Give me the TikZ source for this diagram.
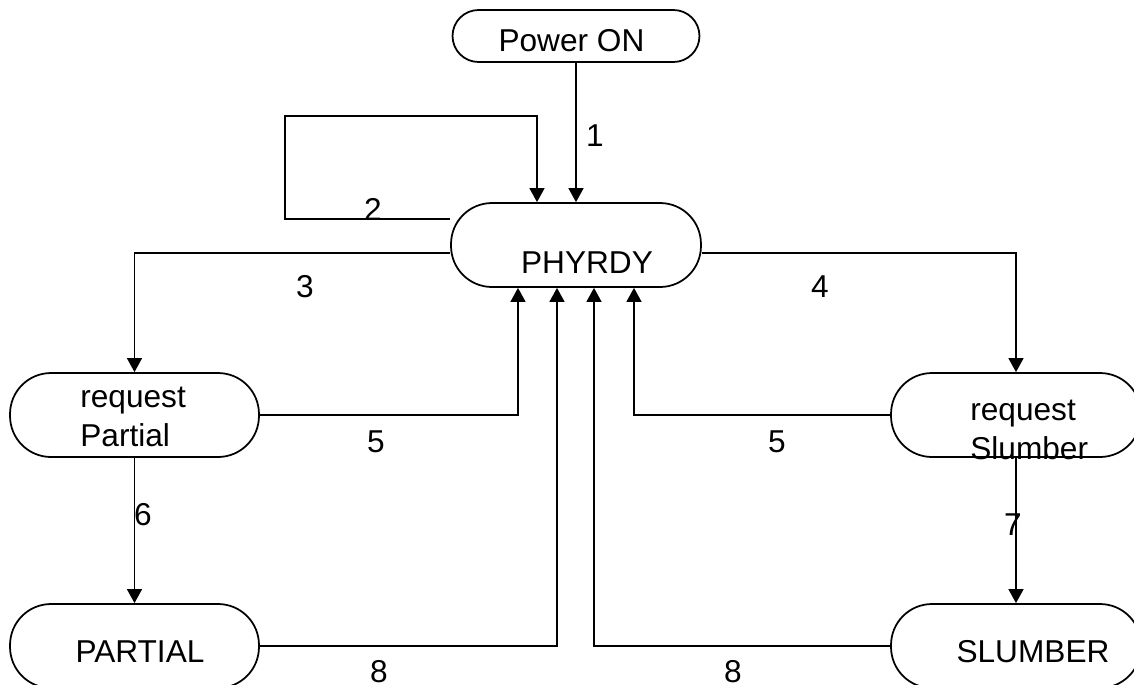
\documentclass[tikz,border=0pt]{standalone}
\usepackage{fontspec}
\setmainfont{Liberation Sans}
\usetikzlibrary{arrows.meta}

\begin{document}
\begin{tikzpicture}[x=0.02cm, y=-0.02cm,
					>={Triangle[length=8pt, width=8.5pt]},   %Pfeilspitzen
					zustand/.style={draw, line width=1pt, rounded corners=0.82cm, minimum width=5cm, minimum height=1.68cm, inner sep=0pt},
					txt/.style={anchor=base, inner sep=0pt, font=\fontsize{18pt}{22pt}\selectfont},
					nr/.style={anchor=base, inner sep=0pt, font=\fontsize{18pt}{22pt}\selectfont},
					pfeil/.style={->, line width=1pt}]
					\useasboundingbox (0,0) rectangle (1134,684);
					% Zustaende
					\node[zustand, rounded corners=0.52cm, minimum width=4.94cm, minimum height=1.04cm] (pwr) at (576,36) {};
					\node[zustand] (phy) at (576,245) {};
					\node[zustand, minimum width=4.98cm] (reqp) at (134.5,415) {};
					\node[zustand, minimum width=4.98cm] (part) at (134.5,646) {};
					\node[zustand] (reqs) at (1016,415) {};
					\node[zustand] (slum) at (1016,646) {};
					% Beschriftung der Zustaende
					\node[txt] (tpwr) at (571.5,51) {Power ON};
					\node[txt] (tphy) at (587,273) {PHYRDY};
					\node[txt, anchor=base west, align=left] (treqp) at (80,446) {request\\Partial};
					\node[txt, anchor=base west, align=left] (treqs) at (970,459) {request\\Slumber};
					\node[txt] (tpart) at (140,662) {PARTIAL};
					\node[txt] (tslum) at (1033,662) {SLUMBER};
					% Uebergaenge
					\draw[pfeil] (pwr.south) -- (phy.north);
					\draw[pfeil] ([yshift=0.52cm]phy.west) -| (285,116) -| ([xshift=-0.78cm]phy.north);
					\draw[pfeil] ([yshift=-0.16cm]phy.west) -| (reqp.north);
					\draw[pfeil] ([yshift=-0.16cm]phy.east) -| (reqs.north);
					\draw[pfeil] (reqp.east) -| ([xshift=-1.16cm]phy.south);
					\draw[pfeil] (reqs.west) -| ([xshift=1.16cm]phy.south);
					\draw[pfeil] (reqp) -- (part);
					\draw[pfeil] (reqs) -- (slum);
					\draw[pfeil] (part.east) -| ([xshift=-0.38cm]phy.south);
					\draw[pfeil] (slum.west) -| ([xshift=0.36cm]phy.south);
					% Nummern
					\node[nr] (n1) at (595,146) {1};
					\node[nr] (n2) at (373,220) {2};
					\node[nr] (n3) at (305,297) {3};
					\node[nr] (n4) at (820,297) {4};
					\node[nr] (n5a) at (376,452) {5};
					\node[nr] (n5b) at (777,452) {5};
					\node[nr] (n6) at (143,525) {6};
					\node[nr] (n7) at (1013,535) {7};
					\node[nr] (n8a) at (379,682) {8};
					\node[nr] (n8b) at (733,682) {8};
				\end{tikzpicture}
\end{document}
